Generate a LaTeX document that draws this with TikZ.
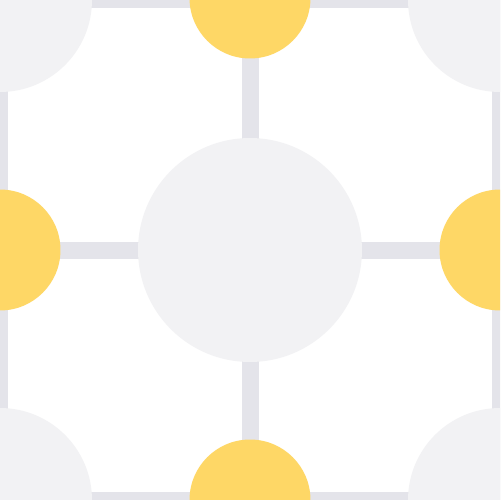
\documentclass[tikz,border=0pt]{standalone}
\usetikzlibrary{backgrounds}

\definecolor{hubgray}{HTML}{F2F2F4}
\definecolor{bargray}{HTML}{E4E4EA}
\definecolor{leafyellow}{HTML}{FED766}

\begin{document}
\begin{tikzpicture}[x=0.02cm, y=-0.02cm]
  \newcommand\hubsize{4.48cm}
  \newcommand\leafsize{2.42cm}
  \newcommand\cornersize{3.68cm}
  \newcommand\barwidth{0.34cm}

  \tikzset{generalnode/.style={circle, inner sep=0pt, draw=none}}
  \tikzset{hub/.style={generalnode, fill=hubgray, minimum size=\hubsize}}
  \tikzset{leaf/.style={generalnode, fill=leafyellow, minimum size=\leafsize}}
  \tikzset{corner/.style={generalnode, fill=hubgray, minimum size=\cornersize}}
  \tikzset{bar/.style={draw=bargray, line width=\barwidth}}

  \useasboundingbox (0,0) rectangle (500,500);
  \clip (0,0) rectangle (500,500);

  \node[hub] at (250, 250) (hub) {};

  \node[leaf] at (250, -2) (leafn) {};
  \node[leaf] at (0, 250) (leafw) {};
  \node[leaf] at (500, 250) (leafe) {};
  \node[leaf] at (250, 500) (leafs) {};

  \foreach \name/\x/\y in {nw/0/0, ne/500/0, sw/0/500, se/500/500}{
    \node[corner] at (\x, \y) (corner\name) {};
  }

  \begin{scope}[on background layer]
    \clip (0,0) rectangle (500,500);
    \fill[white] (0,0) rectangle (500,500);
    \foreach \leaf in {leafn, leafw, leafe, leafs}{
      \draw[bar] (hub.center) -- (\leaf.center);
    }
    \draw[bar] (cornernw.center) -- (cornerne.center) -- (cornerse.center) -- (cornersw.center) -- cycle;
  \end{scope}
\end{tikzpicture}
\end{document}
